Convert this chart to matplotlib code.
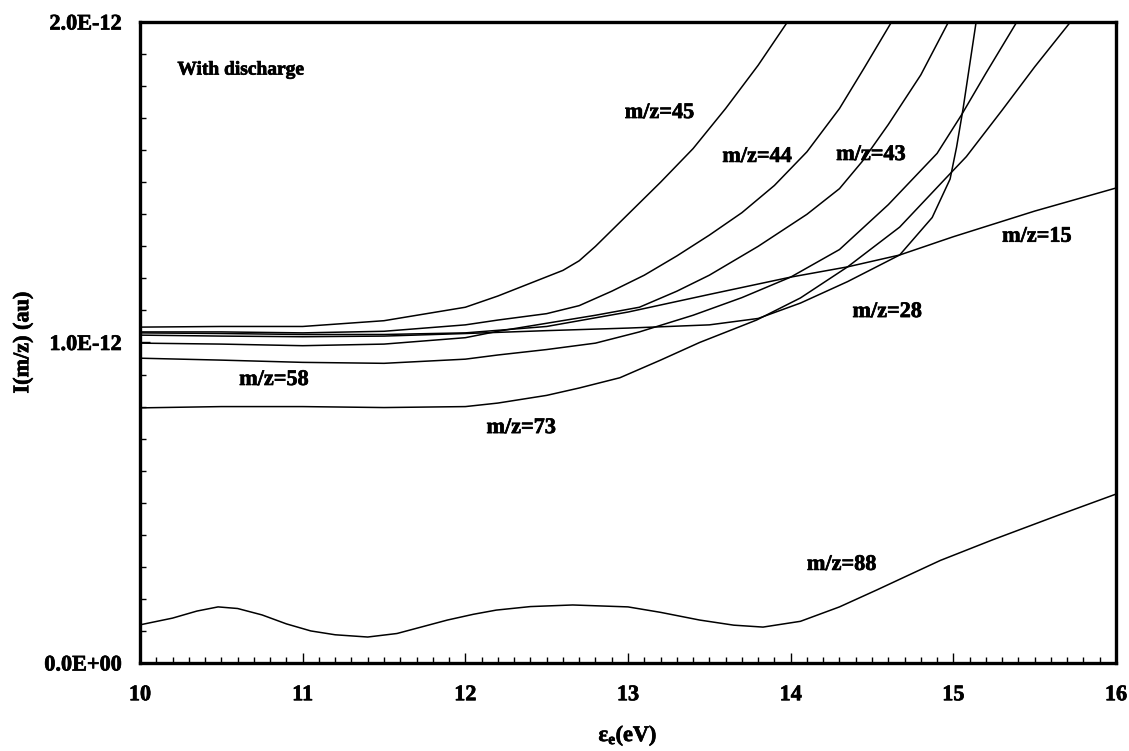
import numpy as np
import matplotlib
matplotlib.use('Agg')
import matplotlib.pyplot as plt
import matplotlib.patheffects as pe
from matplotlib.ticker import MultipleLocator, FuncFormatter

plt.rcParams['font.family'] = ['Liberation Serif', 'DejaVu Serif']
plt.rcParams['font.weight'] = 'bold'
plt.rcParams['mathtext.fontset'] = 'custom'
plt.rcParams['mathtext.rm'] = 'Liberation Serif:bold'
plt.rcParams['mathtext.default'] = 'rm'

SCALE = 1e-12

# electron energy (eV) / intensity (units of 1e-12)
x45 = [10, 10.5, 11, 11.5, 12, 12.2, 12.4, 12.6, 12.7, 12.8, 12.9, 13.0, 13.2, 13.4, 13.6, 13.8, 13.98]
y45 = [1.048, 1.050, 1.050, 1.068, 1.11, 1.145, 1.185, 1.225, 1.255, 1.30, 1.35, 1.40, 1.50, 1.605, 1.73, 1.865, 2.0]

x44 = [10, 10.5, 11, 11.5, 12, 12.2, 12.5, 12.7, 12.9, 13.1, 13.3, 13.5, 13.7, 13.9, 14.1, 14.3, 14.45, 14.62]
y44 = [1.033, 1.033, 1.030, 1.035, 1.055, 1.07, 1.09, 1.115, 1.16, 1.21, 1.27, 1.335, 1.405, 1.49, 1.595, 1.73, 1.855, 2.0]

x43 = [10, 10.5, 11, 11.5, 12, 12.2, 12.5, 12.8, 13.07, 13.3, 13.5, 13.8, 14.1, 14.3, 14.44, 14.6, 14.8, 14.97]
y43 = [0.998, 0.995, 0.99, 0.995, 1.015, 1.035, 1.06, 1.085, 1.11, 1.16, 1.21, 1.30, 1.40, 1.48, 1.565, 1.68, 1.835, 2.0]

x15 = [10, 10.5, 11, 11.5, 12, 12.5, 13.0, 13.5, 14.0, 14.35, 14.67, 15.0, 15.5, 16]
y15 = [1.03, 1.028, 1.025, 1.025, 1.03, 1.05, 1.095, 1.15, 1.204, 1.236, 1.273, 1.33, 1.41, 1.482]

x28 = [10, 10.5, 11, 11.5, 12, 12.5, 13.0, 13.5, 13.8, 14.06, 14.35, 14.67, 14.87, 14.98, 15.02, 15.06, 15.14]
y28 = [1.023, 1.02, 1.018, 1.02, 1.028, 1.037, 1.045, 1.055, 1.075, 1.123, 1.19, 1.273, 1.39, 1.51, 1.61, 1.73, 2.0]

x58 = [10, 10.5, 11, 11.5, 12, 12.2, 12.5, 12.8, 13.07, 13.4, 13.7, 14.0, 14.3, 14.6, 14.9, 15.05, 15.2, 15.39]
y58 = [0.951, 0.945, 0.938, 0.935, 0.948, 0.961, 0.978, 0.998, 1.033, 1.085, 1.14, 1.204, 1.29, 1.43, 1.59, 1.71, 1.84, 2.0]

x73 = [10, 10.5, 11, 11.5, 12, 12.2, 12.5, 12.7, 12.95, 13.2, 13.44, 13.79, 14.06, 14.35, 14.67, 14.96, 15.08, 15.3, 15.5, 15.72]
y73 = [0.796, 0.80, 0.80, 0.797, 0.80, 0.811, 0.835, 0.858, 0.89, 0.945, 1.0, 1.07, 1.139, 1.236, 1.36, 1.516, 1.58, 1.725, 1.86, 2.0]

x88 = [10, 10.2, 10.35, 10.48, 10.6, 10.75, 10.9, 11.05, 11.2, 11.4, 11.58, 11.75, 11.89, 12.05, 12.19, 12.4,
       12.66, 13.0, 13.2, 13.44, 13.65, 13.83, 14.06, 14.3, 14.53, 14.75, 14.92, 15.24, 15.65, 16]
y88 = [0.119, 0.14, 0.162, 0.175, 0.17, 0.15, 0.122, 0.1, 0.088, 0.081, 0.092, 0.115, 0.134, 0.152, 0.165, 0.176,
       0.181, 0.175, 0.158, 0.134, 0.118, 0.112, 0.13, 0.175, 0.228, 0.28, 0.32, 0.384, 0.462, 0.527]

series = [(x45, y45), (x44, y44), (x43, y43), (x15, y15), (x28, y28), (x58, y58), (x73, y73), (x88, y88)]

# label text, left x, center y (units of 1e-12)
labels = ['m/z=45', 'm/z=44', 'm/z=43', 'm/z=15', 'm/z=28', 'm/z=58', 'm/z=73', 'm/z=88']
label_x = [12.98, 13.58, 14.28, 15.30, 14.38, 10.61, 12.13, 14.10]
label_y = [1.716, 1.579, 1.585, 1.33, 1.095, 0.883, 0.733, 0.306]

heavy = [pe.withStroke(linewidth=0.5, foreground='black')]

fig = plt.figure(figsize=(11.29, 7.51), dpi=100)
ax = fig.add_axes([0.124, 0.1172, 0.8645, 0.8535])

for xs, ys in series:
    ax.plot(xs, np.array(ys) * SCALE, color='black', linewidth=1.1)

for t, lx, ly in zip(labels, label_x, label_y):
    ax.text(lx, ly * SCALE, t, fontsize=16, fontweight='bold', ha='left', va='center', path_effects=heavy)

ax.text(10.23, 1.85 * SCALE, 'With discharge', fontsize=14, fontweight='bold', ha='left', va='center',
        path_effects=heavy)

ax.set_xlim(10, 16)
ax.set_ylim(0, 2 * SCALE)
ax.xaxis.set_major_locator(MultipleLocator(1))
ax.xaxis.set_minor_locator(MultipleLocator(0.1))
ax.yaxis.set_major_locator(MultipleLocator(1 * SCALE))
ax.yaxis.set_minor_locator(MultipleLocator(0.1 * SCALE))
ax.yaxis.set_major_formatter(FuncFormatter(lambda v, p: f'{v:.1E}'))

ax.tick_params(which='both', direction='in', top=False, right=False, width=1.0, labelsize=16)
ax.tick_params(which='major', length=7)
ax.tick_params(which='minor', length=4)
ax.tick_params(axis='y', pad=13)
ax.tick_params(axis='x', pad=16)
for lab in ax.get_xticklabels() + ax.get_yticklabels():
    lab.set_path_effects(heavy)

for sp in ax.spines.values():
    sp.set_linewidth(2.4)

ax.set_xlabel(r'ε$_\mathrm{e}$(eV)', fontsize=16, fontweight='bold', labelpad=14, path_effects=heavy)
ax.set_ylabel('I(m/z) (au)', fontsize=16, fontweight='bold', labelpad=8, path_effects=heavy)

fig.savefig('out.png', dpi=100)
